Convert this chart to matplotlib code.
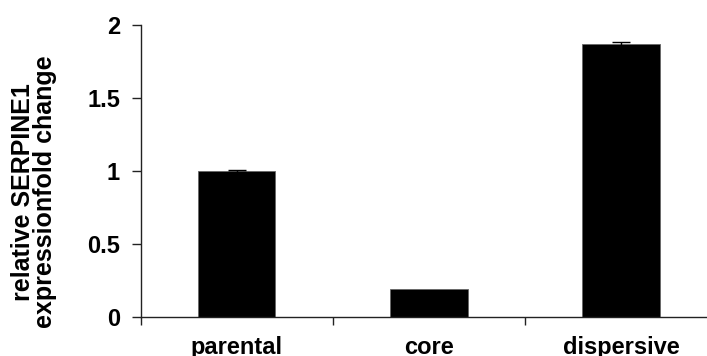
import matplotlib
matplotlib.use("Agg")
import matplotlib.pyplot as plt
from matplotlib.ticker import FixedLocator, NullFormatter

categories = ["parental", "core", "dispersive"]
fold_change = [1.0, 0.187, 1.868]
errors = [0.006, 0.0, 0.013]
yticks = [0, 0.5, 1, 1.5, 2]
ytick_labels = ["0", "0.5", "1", "1.5", "2"]

plt.rcParams["font.family"] = ["Liberation Sans", "DejaVu Sans"]
plt.rcParams["font.weight"] = "bold"

W, H = 707, 356
fig = plt.figure(figsize=(W / 100, H / 100), dpi=100)
left, right = 140.5, 717.0
bottom, top = 316.7, 25.0
ax = fig.add_axes([left / W, (H - bottom) / H, (right - left) / W, (bottom - top) / H])

x = list(range(len(categories)))
ax.bar(x, fold_change, width=0.405, color="black", edgecolor="#666666", linewidth=0.6, zorder=2)

# error bars only where there is a spread to show
ex = [xi for xi, e in zip(x, errors) if e > 0]
ey = [v for v, e in zip(fold_change, errors) if e > 0]
ee = [e for e in errors if e > 0]
ax.errorbar(ex, ey, yerr=ee, fmt="none", ecolor="black",
            elinewidth=1.0, capsize=6.5, capthick=1.0, zorder=3)

ax.set_xlim(-0.5, 2.5)
ax.set_ylim(0, 2)

for side in ("top", "right"):
    ax.spines[side].set_visible(False)
for side in ("left", "bottom"):
    ax.spines[side].set_linewidth(1.0)
    ax.spines[side].set_color("#222222")
    ax.spines[side].set_clip_on(False)

ax.set_yticks(yticks)
ax.set_yticklabels(ytick_labels, fontsize=17, fontweight="bold")
ax.tick_params(axis="y", direction="out", length=6.2, width=1.0, color="#222222", pad=8.5)

ax.set_xticks(x)
ax.set_xticklabels(categories, fontsize=17, fontweight="bold")
ax.xaxis.set_minor_locator(FixedLocator([-0.5, 0.5, 1.5, 2.5]))
ax.xaxis.set_minor_formatter(NullFormatter())
ax.tick_params(axis="x", which="major", length=0, pad=14)
ax.tick_params(axis="x", which="minor", direction="out", length=6.0, width=1.0, color="#222222")

fig.text(34 / W, (H - 192) / H, "relative SERPINE1\nexpressionfold change",
         rotation=90, ha="center", va="center", multialignment="center",
         fontsize=18, fontweight="bold", linespacing=0.88)

fig.savefig("out.png", dpi=100)
